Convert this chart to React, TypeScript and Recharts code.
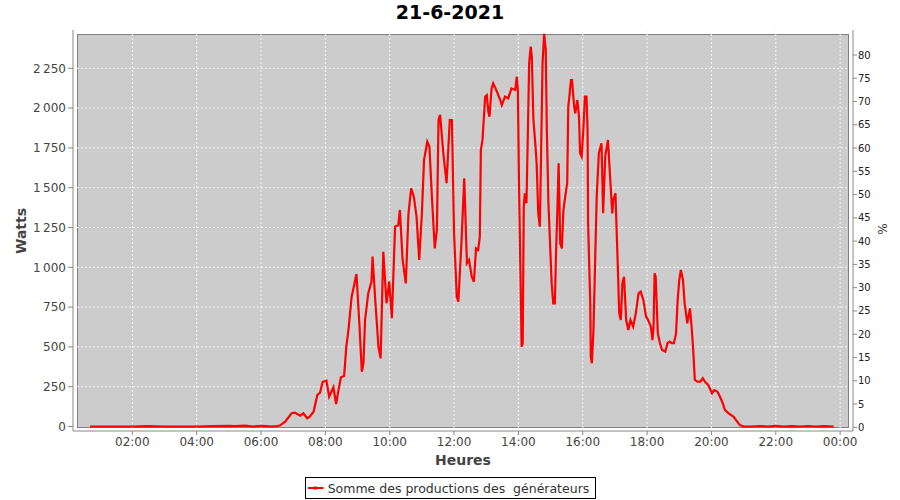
import React from "react";
import { LineChart, Line, XAxis, YAxis, CartesianGrid } from "recharts";

const times: string[] = [
  "00:41","01:00","01:30","02:00","02:30","03:00","03:30","04:00","04:30","05:00",
  "05:10","05:30","05:45","06:00","06:10","06:20","06:30","06:35","06:45","06:57",
  "07:03","07:13","07:19","07:26","07:31","07:38","07:45","07:50","07:55","08:02",
  "08:07","08:15","08:20","08:24","08:29","08:35","08:39","08:43","08:49","08:53",
  "08:58","09:03","09:08","09:11","09:14","09:20","09:26","09:28","09:33","09:39",
  "09:43","09:48","09:54","09:59","10:04","10:10","10:16","10:19","10:24","10:30",
  "10:35","10:40","10:45","10:50","10:55","11:00","11:04","11:10","11:14","11:19",
  "11:24","11:28","11:31","11:34","11:40","11:46","11:49","11:52","11:56","12:00",
  "12:05","12:08","12:14","12:19","12:24","12:28","12:33","12:37","12:41","12:45",
  "12:48","12:50","12:53","12:58","13:01","13:04","13:06","13:10","13:13","13:20",
  "13:26","13:29","13:35","13:41","13:47","13:54","13:57","13:59","14:01","14:04",
  "14:06","14:08","14:10","14:12","14:15","14:18","14:20","14:23","14:25","14:28",
  "14:31","14:34","14:37","14:40","14:42","14:45","14:48","14:51","14:53","14:56",
  "14:59","15:02","15:05","15:08","15:10","15:13","15:15","15:18","15:21","15:24",
  "15:29","15:31","15:33","15:35","15:38","15:40","15:44","15:46","15:50","15:53",
  "15:55","15:58","16:01","16:04","16:07","16:09","16:10","16:14","16:15","16:17",
  "16:20","16:23","16:26","16:30","16:34","16:35","16:38","16:42","16:47","16:51",
  "16:55","16:57","17:01","17:03","17:06","17:08","17:11","17:14","17:17","17:21",
  "17:25","17:29","17:34","17:39","17:44","17:48","17:53","17:58","18:02","18:07",
  "18:10","18:12","18:14","18:16","18:20","18:24","18:28","18:34","18:38","18:42",
  "18:46","18:50","18:54","18:57","19:00","19:03","19:07","19:10","19:15","19:20",
  "19:23","19:26","19:29","19:34","19:39","19:44","19:48","19:54","20:01","20:05",
  "20:11","20:16","20:21","20:25","20:32","20:41","20:53","21:00","21:15","21:30",
  "21:45","22:00","22:15","22:30","22:45","23:00","23:15","23:30","23:48"
];

const watts: number[] = [
  0,0,0,0,2,0,0,0,2,4,
  2,5,0,4,2,0,3,6,30,83,
  87,68,83,52,62,93,198,212,281,288,
  187,246,141,219,309,317,501,606,815,878,
  958,669,344,397,669,837,910,1067,795,501,
  428,1098,774,910,680,1255,1266,1360,1046,899,
  1339,1496,1443,1318,1046,1339,1674,1789,1757,1422,
  1119,1234,1925,1957,1716,1528,1726,1925,1925,1213,
  815,784,1171,1559,1025,1046,941,909,1119,1109,
  1192,1737,1800,2072,2082,1977,1946,2124,2156,2103,
  2051,2019,2072,2061,2124,2114,2197,2114,1548,920,
  501,523,1381,1465,1402,1904,2281,2386,2323,1925,
  1800,1653,1339,1255,1653,2281,2466,2365,1862,1402,
  1151,899,774,774,1066,1402,1653,1151,1119,1360,
  1485,1528,2009,2072,2176,2176,2009,1967,2051,1946,
  1716,1695,1862,2072,2072,1862,1276,774,438,397,
  606,1025,1443,1716,1768,1779,1339,1700,1800,1569,
  1339,1423,1465,1255,941,711,669,899,941,669,
  606,669,627,711,837,847,795,690,669,627,
  543,627,962,941,585,523,480,470,523,533,
  523,523,585,795,920,983,920,774,648,742,
  627,480,293,281,281,303,281,261,209,229,
  219,187,146,104,83,62,9,0,0,3,
  0,4,0,2,0,3,0,2,0
];

const xTicks: number[] = [2, 4, 6, 8, 10, 12, 14, 16, 18, 20, 22, 24];
const wattTicks: number[] = [0, 250, 500, 750, 1000, 1250, 1500, 1750, 2000, 2250];
const pctTicks: number[] = [0, 5, 10, 15, 20, 25, 30, 35, 40, 45, 50, 55, 60, 65, 70, 75, 80];

const title = "21-6-2021";
const xLabel = "Heures";
const yLabel = "Watts";
const y2Label = "%";
const seriesName = "Somme des productions des  générateurs";

const toHours = (t: string) => {
  const [hh, mm] = t.split(":").map(Number);
  return hh + mm / 60;
};

const data = times.map((t, i) => ({ h: toHours(t), w: watts[i] }));

const fmtTime = (v: number) => {
  const hh = Math.round(v) % 24;
  return (hh < 10 ? "0" : "") + hh + ":00";
};
const fmtWatts = (v: number) => {
  if (v >= 1000) {
    const th = Math.floor(v / 1000);
    const rest = String(v % 1000).padStart(3, "0");
    return th + "\u2009" + rest;
  }
  return String(v);
};

const FONT = "'DejaVu Sans', sans-serif";

export default function App() {
  return (
    <div
      style={{
        position: "absolute",
        left: 0,
        top: 0,
        width: 900,
        height: 500,
        background: "#ffffff",
        fontFamily: FONT,
      }}
    >
      <div
        style={{
          position: "absolute",
          left: 77,
          top: 34,
          width: 772,
          height: 394,
          boxSizing: "border-box",
          border: "1px solid #808080",
          background: "#cccccc",
        }}
      />
      <div style={{ position: "absolute", left: 0, top: 0 }}>
        <LineChart
          width={900}
          height={500}
          data={data}
          margin={{ top: 30, right: 0, bottom: 0, left: 0 }}
        >
          <CartesianGrid
            yAxisId="left"
            stroke="#f4f4f4"
            strokeDasharray="2 2"
            horizontalValues={wattTicks.filter((v) => v > 0)}
            verticalValues={xTicks}
          />
          <XAxis
            dataKey="h"
            type="number"
            domain={[0.1554, 24.4]}
            allowDataOverflow
            ticks={xTicks}
            tickFormatter={fmtTime}
            height={69}
            tickSize={4}
            tickMargin={2}
            tick={{ fontSize: 12, fill: "#444444", fontFamily: FONT }}
            tickLine={{ stroke: "#888888" }}
            axisLine={{ stroke: "#888888" }}
          />
          <YAxis
            yAxisId="left"
            type="number"
            domain={[-28.3, 2490.6]}
            allowDataOverflow
            ticks={wattTicks}
            tickFormatter={fmtWatts}
            width={73}
            tickSize={5}
            tickMargin={2}
            tick={{ fontSize: 12, fill: "#444444", fontFamily: FONT }}
            tickLine={{ stroke: "#888888" }}
            axisLine={{ stroke: "#888888" }}
          />
          <YAxis
            yAxisId="right"
            orientation="right"
            type="number"
            domain={[-0.8, 85.37]}
            allowDataOverflow
            ticks={pctTicks}
            width={47}
            tickSize={4}
            tickMargin={1}
            tick={{ fontSize: 10, fill: "#222222", fontFamily: FONT }}
            tickLine={{ stroke: "#888888" }}
            axisLine={{ stroke: "#888888" }}
          />
          <Line
            yAxisId="right"
            dataKey="w"
            stroke="none"
            strokeWidth={0}
            dot={false}
            activeDot={false}
            legendType="none"
            isAnimationActive={false}
          />
          <Line
            yAxisId="left"
            type="linear"
            dataKey="w"
            name={seriesName}
            stroke="#ff0000"
            strokeWidth={2.2}
            dot={false}
            activeDot={false}
            isAnimationActive={false}
          />
        </LineChart>
      </div>
      <svg
        width={900}
        height={500}
        style={{ position: "absolute", left: 0, top: 0, pointerEvents: "none" }}
      >
        <text x={450} y={19.3} textAnchor="middle" fontSize={19} fontWeight="bold" fill="#000" fontFamily={FONT}>
          {title}
        </text>
        <text x={463} y={465} textAnchor="middle" fontSize={14} fontWeight="bold" fill="#444444" fontFamily={FONT}>
          {xLabel}
        </text>
        <text
          x={26}
          y={231}
          textAnchor="middle"
          fontSize={14}
          fontWeight="bold"
          fill="#444444"
          fontFamily={FONT}
          transform="rotate(-90 26 231)"
        >
          {yLabel}
        </text>
        <text
          x={887}
          y={229}
          textAnchor="middle"
          fontSize={12}
          fill="#333333"
          fontFamily={FONT}
          transform="rotate(-90 887 229)"
        >
          {y2Label}
        </text>
        <rect x={305.5} y={477.5} width={290} height={21} fill="#ffffff" stroke="#000000" strokeWidth={1} />
        <line x1={308} y1={488} x2={323.5} y2={488} stroke="#ff0000" strokeWidth={2} />
        <rect x={314} y={486.5} width={3} height={3} fill="#ff0000" />
        <text
          x={327.7}
          y={492.5}
          fontSize={12.5}
          fill="#333333"
          fontFamily={FONT}
          style={{ whiteSpace: "pre" }}
        >
          {seriesName}
        </text>
      </svg>
    </div>
  );
}
